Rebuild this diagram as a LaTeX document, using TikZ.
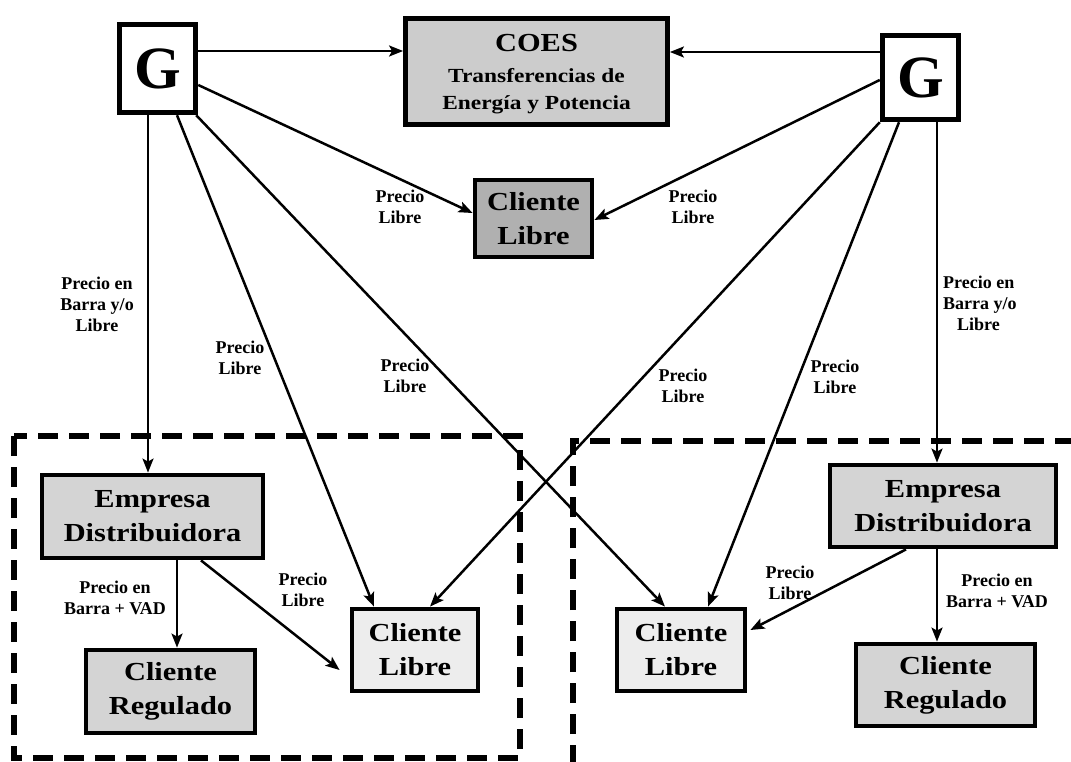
\documentclass[tikz,border=0pt]{standalone}
\usepackage{fontspec}
\setmainfont{Liberation Serif}
\newfontfamily\boxfont{Liberation Serif}[FakeStretch=1.17]
\usetikzlibrary{arrows.meta,calc}
\definecolor{fillA}{HTML}{CCCCCC}
\definecolor{fillB}{HTML}{B0B0B0}
\definecolor{fillC}{HTML}{D4D4D4}
\definecolor{fillD}{HTML}{EDEDED}
\tikzset{
 box/.style={draw=black, line width=4.8pt, inner sep=0pt, font=\boxfont\bfseries\fontsize{26}{34}\selectfont, align=center},
 gbox/.style={draw=black, line width=5.5pt, fill=white, inner sep=0pt, font=\bfseries\fontsize{60}{60}\selectfont},
 arr/.style={line width=2.5pt, -{Stealth[length=14pt,width=11pt,inset=3pt]}},
 lbl/.style={font=\bfseries\fontsize{18}{21}\selectfont, align=center, inner sep=0pt},
 dashbox/.style={line width=6pt, dash pattern=on 20pt off 11pt},
 coesline/.style={anchor=base, inner sep=0pt, font=\boxfont\bfseries\fontsize{#1}{#1}\selectfont},
}
\begin{document}
\begin{tikzpicture}[x=1pt,y=-1pt]
\useasboundingbox[fill=white] (0,0) rectangle (1071,762);
% regions
\draw[dashbox] (14,436) rectangle (520,758);
\draw[dashbox] (573,765) -- (573,441) -- (1080,441);
% nodes
\node[gbox, minimum width=76pt, minimum height=88pt] (GL) at (157.5,68.5) {G};
\node[gbox, minimum width=76pt, minimum height=84pt] (GR) at (920.5,77.5) {G};
\node[box, fill=fillA, minimum width=262pt, minimum height=106pt] (coes) at (536.5,71.5) {};
\node[coesline=26] (coest1) at (536.5,52) {COES};
\node[coesline=20] (coest2) at (536.5,83) {Transferencias de};
\node[coesline=20] (coest3) at (536.5,110) {Energía y Potencia};
\node[box, fill=fillB, minimum width=117pt, minimum height=77pt] (CLT) at (533.5,218.5) {Cliente\\Libre};
\node[box, fill=fillC, minimum width=221pt, minimum height=83pt] (EmpL) at (152.5,516.5) {Empresa\\Distribuidora};
\node[box, fill=fillC, minimum width=169pt, minimum height=83pt] (CRegL) at (170.5,691.5) {Cliente\\Regulado};
\node[box, fill=fillD, minimum width=126pt, minimum height=82pt] (CLL) at (415,650) {Cliente\\Libre};
\node[box, fill=fillD, minimum width=128pt, minimum height=82pt] (CLR) at (681,650) {Cliente\\Libre};
\node[box, fill=fillC, minimum width=226pt, minimum height=82pt] (EmpR) at (943,506) {Empresa\\Distribuidora};
\node[box, fill=fillC, minimum width=179pt, minimum height=82pt] (CRegR) at (945.5,685) {Cliente\\Regulado};
% arrows
\draw[arr] ([yshift=17.5pt]GL.east) -- ([yshift=20.5pt]coes.west);
\draw[arr] ([yshift=25.5pt]GR.west) -- ([yshift=19.5pt]coes.east);
\draw[arr] ([yshift=-16.5pt]GL.east) -- ([yshift=5.5pt]CLT.west);
\draw[arr] ([yshift=-2.5pt]GR.west) -- ([yshift=-1.5pt]CLT.east);
\draw[arr] ([xshift=-9.5pt]GL.south) -- ([xshift=-4.5pt]EmpL.north);
\draw[arr] ([xshift=19.5pt]GL.south) -- ([xshift=-41pt]CLL.north);
\draw[arr] ([xshift=-2pt]GL.south east) -- ([xshift=-16pt]CLR.north);
\draw[arr] (GR.south west) -- ([xshift=15pt]CLL.north);
\draw[arr] ([xshift=-21.5pt]GR.south) -- ([xshift=27pt]CLR.north);
\draw[arr] ([xshift=16.5pt]GR.south) -- ([xshift=-6pt]EmpR.north);
\draw[arr] ([xshift=24.5pt]EmpL.south) -- ([xshift=6.5pt]CRegL.north);
\draw[arr] ([xshift=48.5pt]EmpL.south) -- ([xshift=-10pt,yshift=-20pt]CLL.west);
\draw[arr] ([xshift=-37pt]EmpR.south) -- ([xshift=3pt,yshift=20pt]CLR.east);
\draw[arr] ([xshift=-6pt]EmpR.south) -- ([xshift=-8.5pt]CRegR.north);
% labels
\node[lbl] (l3) at (400,207) {Precio\\Libre};
\node[lbl] (l4) at (693,207) {Precio\\Libre};
\node[lbl] (l5) at (97,304) {Precio en\\Barra y/o\\Libre};
\node[lbl] (l6) at (240,358) {Precio\\Libre};
\node[lbl] (l7) at (405,376) {Precio\\Libre};
\node[lbl] (l8) at (683,386) {Precio\\Libre};
\node[lbl] (l9) at (835,377) {Precio\\Libre};
\node[lbl, align=left, anchor=west] (l10) at (943,303) {Precio en\\Barra y/o\\\hspace*{14pt}Libre};
\node[lbl] (l11) at (115,598) {Precio en\\Barra + VAD};
\node[lbl] (l12) at (303,590) {Precio\\Libre};
\node[lbl] (l13) at (790,583) {Precio\\Libre};
\node[lbl] (l14) at (997,591) {Precio en\\Barra + VAD};
\end{tikzpicture}
\end{document}
